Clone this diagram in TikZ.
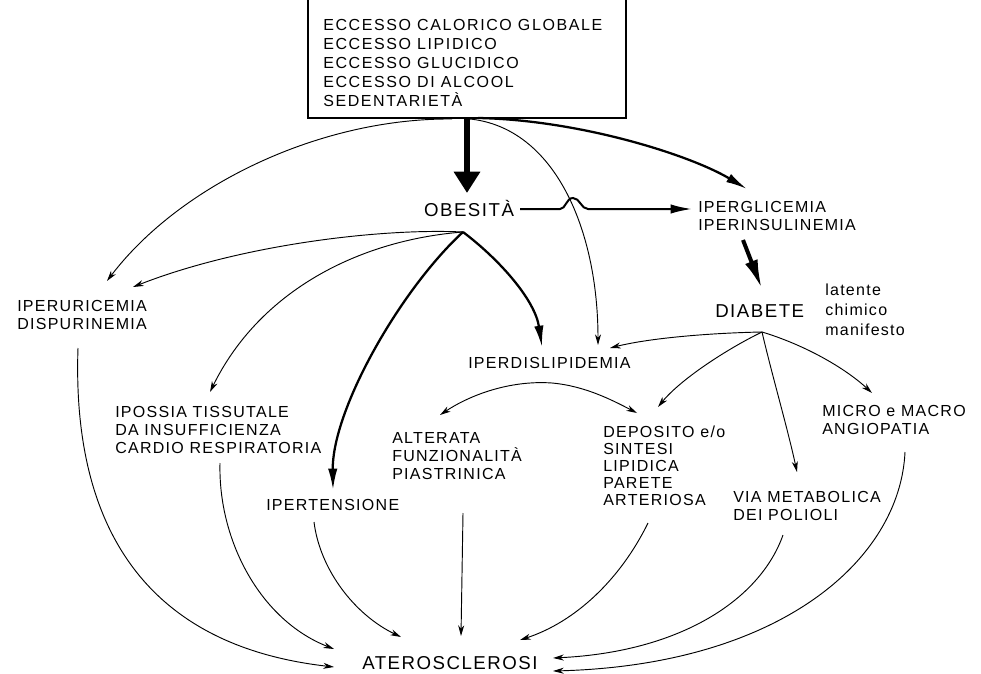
\documentclass[tikz,border=0pt]{standalone}
\usepackage{fontspec}
\setmainfont{Liberation Sans}
\newfontfamily\labfont{Liberation Sans}[LetterSpace=8]
\newfontfamily\boxfont{Liberation Sans}[LetterSpace=10]
\usetikzlibrary{arrows.meta}
\begin{document}
\begin{tikzpicture}[x=0.75pt,y=-0.75pt,
  lab/.style={inner sep=0pt, align=left, font=\labfont\fontsize{12}{13.5}\selectfont},
  deplab/.style={inner sep=0pt, align=left, font=\labfont\fontsize{12}{12.75}\selectfont},
  boxtxt/.style={inner sep=0pt, align=left, font=\boxfont\fontsize{12}{14.25}\selectfont},
  big/.style={inner sep=0pt, font=\labfont\fontsize{14}{16}\selectfont},
  small/.style={inner sep=0pt, align=left, font=\labfont\fontsize{12}{15}\selectfont},
  thin/.style={line width=0.7pt, -{Stealth[length=8pt,width=4.5pt,inset=2.5pt]}},
  med/.style={line width=1.7pt, -{Latex[length=16pt,width=7pt]}},
  thickarrow/.style={line width=4.5pt, -{Triangle[length=16pt,width=19pt]}},
  fatarrow/.style={line width=3pt, -{Latex[length=22pt,width=10pt]}}]
\useasboundingbox (0,0) rectangle (981,674);
\fill[white] (0,0) rectangle (981,674);
% box
\draw[line width=0.8pt] (308,-4) rectangle (626,118);
\node[boxtxt, anchor=north west] (causes) at (323,19) {ECCESSO CALORICO GLOBALE\\ECCESSO LIPIDICO\\ECCESSO GLUCIDICO\\ECCESSO DI ALCOOL\\SEDENTARIETÀ};
% labels
\node[big, anchor=base] (obes) at (469,216) {OBESITÀ};
\node[lab, anchor=north west] (iperg) at (698,201) {IPERGLICEMIA\\IPERINSULINEMIA};
\node[big, anchor=base west] (diab) at (715,317) {DIABETE};
\node[small, anchor=north west] (lat) at (825,284) {latente\\chimico\\manifesto};
\node[lab, anchor=north west] (iperur) at (17,300) {IPERURICEMIA\\DISPURINEMIA};
\node[lab, anchor=west] (iperdis) at (468,363) {IPERDISLIPIDEMIA};
\node[lab, anchor=north west] (ipos) at (115,406) {IPOSSIA TISSUTALE\\DA INSUFFICIENZA\\CARDIO RESPIRATORIA};
\node[lab, anchor=north west] (alt) at (392,432) {ALTERATA\\FUNZIONALITÀ\\PIASTRINICA};
\node[lab, anchor=west] (iperten) at (266,505) {IPERTENSIONE};
\node[deplab, anchor=north west] (dep) at (603,426) {DEPOSITO e/o\\SINTESI\\LIPIDICA\\PARETE\\ARTERIOSA};
\node[lab, anchor=north west] (via) at (733,491) {VIA METABOLICA\\DEI POLIOLI};
\node[lab, anchor=north west] (micro) at (822,405) {MICRO e MACRO\\ANGIOPATIA};
\node[big, anchor=west] (ater) at (362,663) {ATEROSCLEROSI};
% coordinates
\coordinate (bA) at (467,118); \coordinate (bB) at (452,119);
\coordinate (bC) at (470,119); \coordinate (bD) at (478,118);
\coordinate (oO) at (463,232); \coordinate (oE) at (520,209);
\coordinate (dO) at (762,332); \coordinate (pO) at (552,383);
\coordinate (gS) at (743,240);
\coordinate (tObes) at (467,193); \coordinate (tUr1) at (107,281);
\coordinate (tUr2) at (133,287); \coordinate (tIpos) at (210,392);
\coordinate (tTen) at (333,490); \coordinate (tDis1) at (542,347);
\coordinate (tDis2) at (598,345); \coordinate (tDis3) at (610,348);
\coordinate (tGl1) at (747,189); \coordinate (tGl2) at (692,209);
\coordinate (tDia) at (762,289); \coordinate (tDep1) at (637,413);
\coordinate (tDep2) at (658,407); \coordinate (tVia) at (797,472);
\coordinate (tMic) at (872,393); \coordinate (tAlt) at (440,415);
\coordinate (sUr) at (78,348); \coordinate (sIp) at (220,463);
\coordinate (sTen) at (314,522); \coordinate (sAlt) at (463,513);
\coordinate (sDep) at (648,523); \coordinate (sVia) at (783,535);
\coordinate (sMic) at (905,452);
\coordinate (eUr) at (334,667); \coordinate (eIp) at (334,649);
\coordinate (eTen) at (401,637); \coordinate (eAlt) at (461,636);
\coordinate (eDep) at (520,640); \coordinate (eVia) at (553,658);
\coordinate (eMic) at (553,671);
% from box
\draw[thickarrow] (bA) -- (tObes);
\draw[thin] (bB) .. controls (320,118) and (180,185) .. (tUr1);
\draw[thin] (bC) .. controls (555,128) and (598,230) .. (tDis2);
\draw[med] (bD) .. controls (580,120) and (690,155) .. (tGl1);
% from obesita
\draw[thin] (oO) .. controls (380,228) and (240,245) .. (tUr2);
\draw[thin] (oO) .. controls (360,240) and (260,290) .. (tIpos);
\draw[med] (oO) .. controls (400,290) and (332,410) .. (tTen);
\draw[med] (oO) .. controls (500,260) and (535,300) .. (tDis1);
\draw[line width=1.5pt, -{Latex[length=16pt,width=7pt]}] (oE) -- (560,209) .. controls (566,209) and (566,198) .. (573,198) .. controls (580,198) and (581,209) .. (588,209) -- (tGl2);
\draw[fatarrow] (gS) -- (tDia);
% from diabete
\draw[thin] (dO) .. controls (710,333) and (650,338) .. (tDis3);
\draw[thin] (dO) .. controls (725,350) and (680,380) .. (tDep2);
\draw[thin] (dO) .. controls (772,375) and (788,430) .. (tVia);
\draw[thin] (dO) .. controls (805,345) and (845,368) .. (tMic);
% from iperdislipidemia
\draw[thin] (pO) .. controls (510,380) and (470,395) .. (tAlt);
\draw[thin] (pO) .. controls (585,386) and (612,400) .. (tDep1);
% to aterosclerosi
\draw[thin] (sUr) .. controls (72,520) and (140,645) .. (eUr);
\draw[thin] (sIp) .. controls (218,540) and (260,620) .. (eIp);
\draw[thin] (sTen) .. controls (320,570) and (355,615) .. (eTen);
\draw[thin] (sAlt) -- (eAlt);
\draw[thin] (sDep) .. controls (620,580) and (575,622) .. (eDep);
\draw[thin] (sVia) .. controls (760,600) and (680,652) .. (eVia);
\draw[thin] (sMic) .. controls (900,560) and (780,665) .. (eMic);
\end{tikzpicture}
\end{document}
